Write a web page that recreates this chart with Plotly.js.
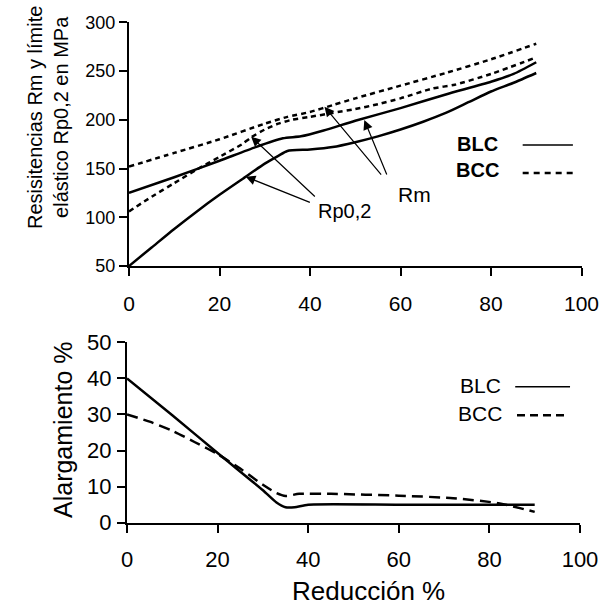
<!DOCTYPE html>
<html>
<head>
<meta charset="utf-8">
<script src="https://cdn.plot.ly/plotly-3.0.1.min.js"></script>
<style>html,body{margin:0;padding:0;background:#fff;}#chart{width:613px;height:605px;}</style>
</head>
<body>
<div id="chart"></div>
<script>
// ---- Data ----
// Top panel: strengths (MPa) vs reduction (%)
const blcRmX = [0, 10, 20, 28, 34, 38, 43, 50, 60, 70, 80, 85, 90];
const blcRmY = [125, 141, 158, 172, 181, 183, 189, 199, 212, 226, 239, 247, 259];
const blcRpX = [0, 5, 10, 15, 20, 25, 30, 33, 35, 40, 45, 50, 55, 60, 65, 70, 75, 80, 85, 90];
const blcRpY = [50, 69, 88, 106, 123, 139, 155, 163, 168, 169.5, 172, 177, 183, 190, 198, 207, 218, 229, 238, 248];
const bccRmX = [0, 10, 20, 30, 35, 40, 45, 50, 60, 70, 80, 90];
const bccRmY = [152, 166, 180, 196, 203, 208, 215, 222, 235, 248, 262, 278];
const bccRpX = [0, 5, 10, 15, 20, 25, 27, 30, 33, 36, 40, 45, 50, 55, 60, 67, 72, 80, 90];
const bccRpY = [106, 121, 135, 149, 162, 175, 182, 190, 196, 200, 203, 207, 211, 216, 222, 232, 236, 247, 264];

// Bottom panel: elongation (%) vs reduction (%)
const blcElX = [0, 10, 20, 30, 33, 35, 37, 40, 60, 80, 90];
const blcElY = [40, 29.8, 19.3, 9, 5.6, 4.3, 4.3, 5, 5, 5, 5];
const bccElX = [0, 5, 10, 15, 20, 25, 30, 33, 35, 38, 45, 60, 72, 82, 90];
const bccElY = [30, 28, 25.5, 22.3, 19, 15, 10.5, 8.2, 7.4, 8, 8, 7.5, 6.8, 5.4, 3];

const xTicks = [0, 20, 40, 60, 80, 100];
const yTicksTop = [50, 100, 150, 200, 250, 300];
const yTicksBottom = [0, 10, 20, 30, 40, 50];

const seriesNames = ['BLC', 'BCC'];
const curveLabels = ['Rp0,2', 'Rm'];
const titleTopY = 'Resisitencias Rm y límite<br>elástico Rp0,2 en MPa';
const titleBottomY = 'Alargamiento %';
const titleX = 'Reducción %';

// ---- Styling ----
const FONT = 'Liberation Sans, Arial, Helvetica, sans-serif';
const solid = {color: '#000', width: 2.5, shape: 'spline', smoothing: 0.6};
const dashTop = {color: '#000', width: 2.5, dash: '5px,4px', shape: 'spline', smoothing: 0.6};
const dashBottom = {color: '#000', width: 2.5, dash: '11px,6px', shape: 'spline', smoothing: 0.6};

const traces = [
  {x: blcRmX, y: blcRmY, xaxis: 'x', yaxis: 'y', mode: 'lines', line: solid, name: 'BLC Rm'},
  {x: blcRpX, y: blcRpY, xaxis: 'x', yaxis: 'y', mode: 'lines', line: solid, name: 'BLC Rp0,2'},
  {x: bccRmX, y: bccRmY, xaxis: 'x', yaxis: 'y', mode: 'lines', line: dashTop, name: 'BCC Rm'},
  {x: bccRpX, y: bccRpY, xaxis: 'x', yaxis: 'y', mode: 'lines', line: dashTop, name: 'BCC Rp0,2'},
  {x: blcElX, y: blcElY, xaxis: 'x2', yaxis: 'y2', mode: 'lines', line: solid, name: 'BLC'},
  {x: bccElX, y: bccElY, xaxis: 'x2', yaxis: 'y2', mode: 'lines', line: dashBottom, name: 'BCC'}
];

const axisBase = {
  showline: true, linecolor: '#000', linewidth: 2,
  ticks: 'outside', ticklen: 8, tickwidth: 2, tickcolor: '#000',
  showgrid: false, zeroline: false, fixedrange: true
};

function arrow(xh, yh, xt, yt) {
  return {xref: 'x', yref: 'y', axref: 'x', ayref: 'y', x: xh, y: yh, ax: xt, ay: yt,
    text: '', showarrow: true, arrowhead: 2, arrowsize: 1.6, arrowwidth: 1.2, arrowcolor: '#000', standoff: 0, startstandoff: 0};
}

const annotations = [
  // curve labels + arrows
  {xref: 'x', yref: 'y', x: 47.6, y: 106, text: curveLabels[0], showarrow: false, font: {family: FONT, size: 20, color: '#000'}},
  {xref: 'x', yref: 'y', x: 63, y: 123, text: curveLabels[1], showarrow: false, font: {family: FONT, size: 21, color: '#000'}},
  arrow(25.8, 141.6, 40.3, 114.6),
  arrow(27.0, 182.6, 41.4, 119.8),
  arrow(43.2, 213.4, 56.0, 142.3),
  arrow(52.0, 199.8, 57.1, 142.3),
  // top legend
  {xref: 'x', yref: 'y', x: 77, y: 175, text: '<b>' + seriesNames[0] + '</b>', showarrow: false, font: {family: FONT, size: 20, color: '#000'}},
  {xref: 'x', yref: 'y', x: 77, y: 148, text: '<b>' + seriesNames[1] + '</b>', showarrow: false, font: {family: FONT, size: 20, color: '#000'}},
  // bottom legend
  {xref: 'x2', yref: 'y2', x: 78, y: 38, text: seriesNames[0], showarrow: false, font: {family: FONT, size: 21, color: '#000'}},
  {xref: 'x2', yref: 'y2', x: 78, y: 30.4, text: seriesNames[1], showarrow: false, font: {family: FONT, size: 21, color: '#000'}},
  // axis titles
  {xref: 'paper', yref: 'paper', x: 48 / 613, y: 1 - 118 / 605, text: titleTopY, textangle: -90, showarrow: false,
   font: {family: FONT, size: 20, color: '#000'}, xanchor: 'center', yanchor: 'middle'},
  {xref: 'paper', yref: 'paper', x: 63 / 613, y: 1 - 430 / 605, text: titleBottomY, textangle: -90, showarrow: false,
   font: {family: FONT, size: 25, color: '#000'}, xanchor: 'center', yanchor: 'middle'},
  {xref: 'paper', yref: 'paper', x: 368 / 613, y: 1 - 591 / 605, text: titleX, showarrow: false,
   font: {family: FONT, size: 26, color: '#000'}, xanchor: 'center', yanchor: 'middle'}
];

const shapes = [
  {type: 'line', xref: 'x', yref: 'y', x0: 87, x1: 98.1, y0: 174, y1: 174, line: {color: '#000', width: 1.5}},
  {type: 'line', xref: 'x', yref: 'y', x0: 87, x1: 98.3, y0: 145.5, y1: 145.5, line: {color: '#000', width: 2.5, dash: '6px,5px'}},
  {type: 'line', xref: 'x2', yref: 'y2', x0: 85.7, x1: 97.8, y0: 37.7, y1: 37.7, line: {color: '#000', width: 1.5}},
  {type: 'line', xref: 'x2', yref: 'y2', x0: 86.1, x1: 97.1, y0: 29.8, y1: 29.8, line: {color: '#000', width: 2.5, dash: '8px,5px'}}
];

const layout = {
  width: 613, height: 605,
  margin: {l: 0, r: 0, t: 0, b: 0},
  paper_bgcolor: '#fff', plot_bgcolor: '#fff',
  showlegend: false,
  font: {family: FONT, color: '#000'},
  xaxis: Object.assign({}, axisBase, {domain: [129 / 613, 581.5 / 613], range: [0, 100], anchor: 'y',
    tickvals: xTicks, ticktext: xTicks.map(String), tickfont: {family: FONT, size: 21, color: '#000'}, ticklabelstandoff: 10}),
  yaxis: Object.assign({}, axisBase, {domain: [1 - 266 / 605, 1 - 22.3 / 605], range: [50, 300], anchor: 'x',
    tickvals: yTicksTop, ticktext: yTicksTop.map(String), tickfont: {family: FONT, size: 18, color: '#000'}, ticklabelstandoff: 0}),
  xaxis2: Object.assign({}, axisBase, {domain: [127 / 613, 580 / 613], range: [0, 100], anchor: 'y2',
    tickvals: xTicks, ticktext: xTicks.map(String), tickfont: {family: FONT, size: 22, color: '#000'}, ticklabelstandoff: 8}),
  yaxis2: Object.assign({}, axisBase, {domain: [1 - 522.7 / 605, 1 - 342.3 / 605], range: [0, 50], anchor: 'x2',
    tickvals: yTicksBottom, ticktext: yTicksBottom.map(String), tickfont: {family: FONT, size: 22, color: '#000'}, ticklabelstandoff: 1}),
  annotations: annotations,
  shapes: shapes
};

Plotly.newPlot('chart', traces, layout, {staticPlot: true, displayModeBar: false});
</script>
</body>
</html>
